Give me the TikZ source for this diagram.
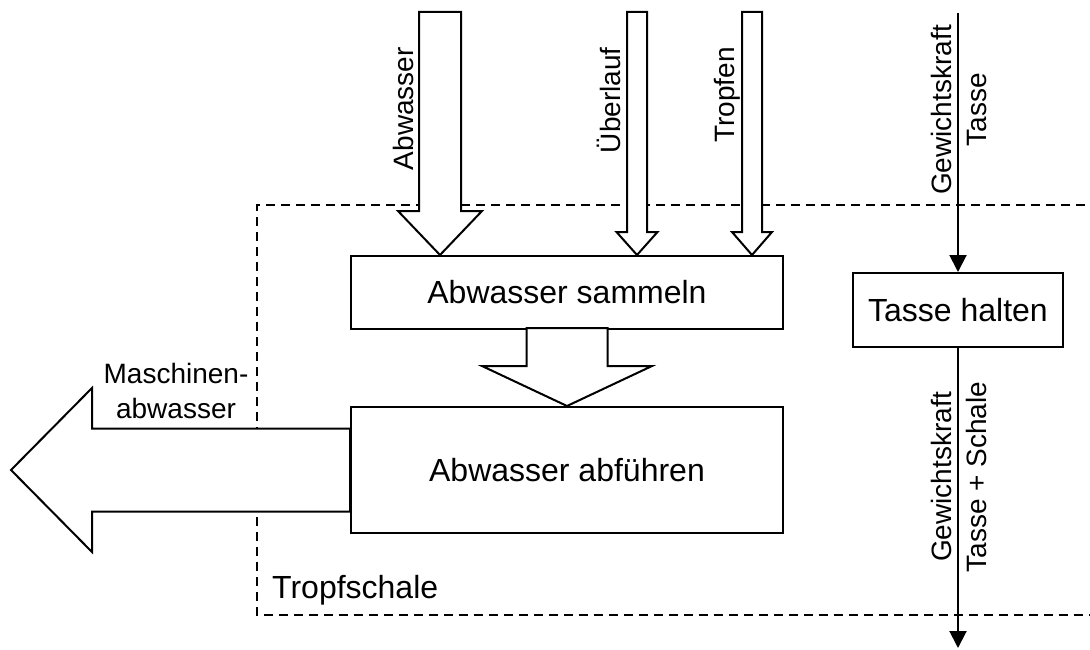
\documentclass[tikz,border=0pt]{standalone}
\usepackage{fontspec}
\setmainfont{Liberation Sans}
\usetikzlibrary{arrows.meta,calc}
\newcommand{\downblock}[5]{%
  \draw[blockarrow] (#1) -- ++(#3,-#4) -- ++(#2-#3,0) -- ++(0,-#5)
    -- ++(-2*#2,0) -- ++(0,#5) -- ++(#2-#3,0) -- cycle;}
\tikzset{
  procbox/.style={draw, line width=2pt, fill=white, font=\fontsize{32}{38}\selectfont},
  lbl/.style={inner sep=0pt, font=\fontsize{28}{35}\selectfont},
  blockarrow/.style={draw, line width=2pt, fill=white, line join=miter},
  forcearrow/.style={line width=2pt, -{Triangle[length=17pt,width=17pt]}},
  boundary/.style={line width=2pt, dash pattern=on 9pt off 6pt},
}
\begin{document}
\begin{tikzpicture}[x=1pt,y=-1pt]
\useasboundingbox (0,0) rectangle (1090,650);
% system boundary
\draw[boundary] (1100,205) -- (257,205) -- (257,615) -- (1100,615);
\node[lbl, font=\fontsize{32}{38}\selectfont, anchor=base west] (tropfschale) at (272,598) {Tropfschale};
% boxes
\node[procbox, minimum width=432pt, minimum height=73pt] (sammeln) at (567,292.5) {Abwasser sammeln};
\node[procbox, minimum width=432pt, minimum height=126pt] (abfuehren) at (567,470) {Abwasser abführen};
\node[procbox, minimum width=210pt, minimum height=74pt] (halten) at (958,310) {Tasse halten};
% block arrows
\coordinate (tipA) at ($(sammeln.north west)+(90,0)$);
\coordinate (tipU) at ($(sammeln.north west)+(287,0)$);
\coordinate (tipT) at ($(sammeln.north west)+(402,0)$);
\downblock{tipA}{21}{42}{44}{199}
\downblock{tipU}{10}{20.5}{23}{220}
\downblock{tipT}{10}{20}{23}{220}
\downblock{abfuehren.north}{40.5}{85}{40}{38}
\coordinate (tipL) at ($(abfuehren.west)+(-339,0)$);
\draw[blockarrow] (tipL) -- ++(81,-82) -- ++(0,40.5) -- ++(258,0) -- ++(0,83)
  -- ++(-258,0) -- ++(0,40.5) -- cycle;
% block arrow labels
\node[lbl, rotate=90, anchor=base east] (lA) at (413,47) {Abwasser};
\node[lbl, rotate=90, anchor=base east] (lU) at (620,47) {Überlauf};
\node[lbl, rotate=90, anchor=base east] (lT) at (734,47) {Tropfen};
\node[lbl, align=center, anchor=south] (lM) at (176,419) {Maschinen-\\abwasser};
% force arrows
\coordinate (gin) at (958,13);
\coordinate (gout) at (958,648);
\draw[forcearrow] (gin) -- (halten.north);
\draw[forcearrow] (halten.south) -- (gout);
\node[lbl, rotate=90, align=center, anchor=south] (lG1) at (987,110) {Gewichtskraft\\Tasse};
\node[lbl, rotate=90, align=center, anchor=south] (lG2) at (987,477) {Gewichtskraft\\Tasse + Schale};
\end{tikzpicture}
\end{document}
